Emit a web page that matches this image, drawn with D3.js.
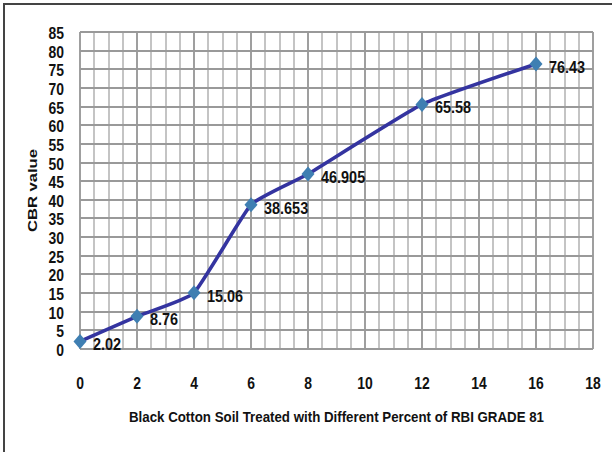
<!DOCTYPE html>
<html>
<head>
<meta charset="utf-8">
<script src="https://cdn.jsdelivr.net/npm/d3@7"></script>
<style>
  html, body { margin: 0; padding: 0; background: #fff; }
  svg { display: block; }
  text { font-family: "Liberation Sans", Arial, sans-serif; font-weight: bold; fill: #111; }
</style>
</head>
<body>
<svg id="chart" width="612" height="452"></svg>
<script>
// Percent of RBI Grade 81 added to black cotton soil, and the CBR measured
const percent = [0, 2, 4, 6, 8, 12, 16];
const cbr = [2.02, 8.76, 15.06, 38.653, 46.905, 65.58, 76.43];
const valueLabels = ["2.02", "8.76", "15.06", "38.653", "46.905", "65.58", "76.43"];
const xTicks = [0, 2, 4, 6, 8, 10, 12, 14, 16, 18];
const yTicks = [0, 5, 10, 15, 20, 25, 30, 35, 40, 45, 50, 55, 60, 65, 70, 75, 80, 85];
const xTitle = "Black Cotton Soil Treated with Different Percent of RBI GRADE 81";
const yTitle = "CBR value";

const svg = d3.select("#chart");
const W = 612, H = 452;
const plot = { left: 80, right: 593, top: 32, bottom: 349 };

const x = d3.scaleLinear().domain([0, 18]).range([plot.left, plot.right]);
const y = d3.scaleLinear().domain([0, 85]).range([plot.bottom, plot.top]);

// condensed label: glyphs squeezed horizontally around the anchor point
function narrowLabel(parent, px, py, str, anchor, size, sx) {
  parent.append("text")
    .attr("transform", `translate(${px},${py}) scale(${sx},1)`)
    .attr("text-anchor", anchor)
    .attr("dominant-baseline", "central")
    .attr("font-size", size)
    .text(str);
}

// outer frame (top and left edges)
svg.append("path")
  .attr("d", `M4,${H} L4,4 L${W},4`)
  .attr("fill", "none").attr("stroke", "#444").attr("stroke-width", 2);

// minor vertical grid every 0.5
const minorX = d3.range(0, 18.01, 0.5).filter(v => Math.abs(v / 2 - Math.round(v / 2)) > 1e-6);
svg.append("g").selectAll("line").data(minorX).join("line")
  .attr("x1", d => Math.round(x(d))).attr("x2", d => Math.round(x(d)))
  .attr("y1", plot.top).attr("y2", plot.bottom)
  .attr("stroke", "#b0b0b0").attr("stroke-width", 1.5);

// major vertical grid
svg.append("g").selectAll("line").data(xTicks).join("line")
  .attr("x1", d => Math.round(x(d))).attr("x2", d => Math.round(x(d)))
  .attr("y1", plot.top).attr("y2", plot.bottom)
  .attr("stroke", "#959595").attr("stroke-width", 1.8);

// horizontal grid
svg.append("g").selectAll("line").data(yTicks).join("line")
  .attr("x1", plot.left).attr("x2", plot.right)
  .attr("y1", d => Math.round(y(d))).attr("y2", d => Math.round(y(d)))
  .attr("stroke", "#999").attr("stroke-width", 1.8);

// y tick labels
const gy = svg.append("g");
yTicks.forEach(t => narrowLabel(gy, plot.left - 16, y(t) + 1, String(t), "end", 17, 0.82));

// x tick labels
const gx = svg.append("g");
xTicks.forEach(t => narrowLabel(gx, x(t), 383, String(t), "middle", 17, 0.82));

// axis titles
svg.append("text")
  .attr("x", (plot.left + plot.right) / 2).attr("y", 417)
  .attr("text-anchor", "middle").attr("dominant-baseline", "central")
  .attr("font-size", 14.5)
  .attr("textLength", 415).attr("lengthAdjust", "spacingAndGlyphs")
  .text(xTitle);
svg.append("text")
  .attr("transform", `translate(32,${(plot.top + plot.bottom) / 2}) rotate(-90)`)
  .attr("text-anchor", "middle").attr("dominant-baseline", "central")
  .attr("font-size", 13.5)
  .attr("textLength", 83).attr("lengthAdjust", "spacingAndGlyphs")
  .text(yTitle);

// lightly smoothed data line
const pts = percent.map((p, i) => [p, cbr[i]]);
const line = d3.line().x(d => x(d[0])).y(d => y(d[1])).curve(d3.curveCardinal.tension(0.6));
svg.append("path").datum(pts).attr("d", line)
  .attr("fill", "none").attr("stroke", "#3434a0").attr("stroke-width", 3.6);

// diamond markers
const diamond = "M0,-7.5L6.5,0L0,7.5L-6.5,0Z";
svg.append("g").selectAll("path").data(pts).join("path")
  .attr("transform", d => `translate(${x(d[0])},${y(d[1])})`)
  .attr("d", diamond)
  .attr("fill", "#3f7fb2");

// value labels
const gv = svg.append("g");
pts.forEach((d, i) => narrowLabel(gv, x(d[0]) + 13, y(d[1]) + 3, valueLabels[i], "start", 17, 0.85));
</script>
</body>
</html>
